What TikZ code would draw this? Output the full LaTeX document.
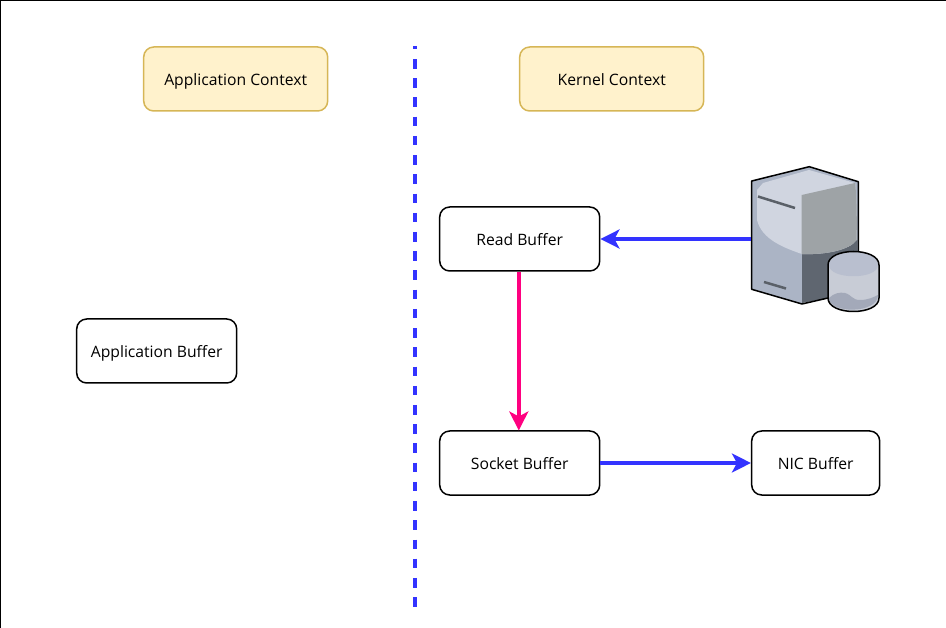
\documentclass[tikz,border=0pt]{standalone}
\usepackage{fontspec}
\setmainfont{Open Sans}
\usepackage{xcolor}
\usetikzlibrary{positioning, calc, arrows.meta}
\definecolor{ctxfill}{HTML}{FFF2CC}
\definecolor{ctxline}{HTML}{D6B656}
\definecolor{flowblue}{HTML}{3333FF}
\definecolor{flowpink}{HTML}{FF0080}
\definecolor{srvfront}{HTML}{ABB4C5}
\definecolor{srvdark}{HTML}{5F6670}
\definecolor{srvlight}{HTML}{D0D5E0}
\definecolor{srvgray}{HTML}{9EA3A6}
\definecolor{srvbar}{HTML}{5A6068}
\definecolor{srvdrum}{HTML}{C8CCD6}
\definecolor{srvdrumtop}{HTML}{B9BFCF}
\definecolor{srvdrumlow}{HTML}{A3A9B9}
\tikzset{
    buffer/.style={draw=black, line width=1.5pt, fill=white, rounded corners=10pt, minimum height=64pt, text=black, font=\fontsize{15.7}{18}\selectfont, inner sep=0pt, text height=14pt, text depth=1.4pt},
    context/.style={buffer, draw=ctxline, fill=ctxfill, minimum width=184pt},
    flow/.style={line width=3.4pt, -{Stealth[length=19pt,width=19pt,inset=5pt]}}
}
\begin{document}
\begin{tikzpicture}[x=1pt, y=-1pt]
    \useasboundingbox (0,0) rectangle (946,628);

    % --- Page Edge ---
    \draw[line width=1.5pt] (0.7,628) -- (0.7,0.7) -- (946,0.7);

    % --- Context Labels ---
    \node[context] (appctx) at (235.7,79) {Application Context};
    \node[context] (kernctx) at (611.7,79) {Kernel Context};

    % --- Divider ---
    \draw[flowblue, line width=3.5pt, dash pattern=on 9.6pt off 9.62pt, dash phase=6.2pt] (415,46) -- (415,607);

    % --- Buffers ---
    \node[buffer, minimum width=160pt] (appbuf) at (156.7,351) {Application Buffer};
    \node[buffer, minimum width=160pt] (readbuf) at (519.7,239) {Read Buffer};
    \node[buffer, minimum width=160pt] (sockbuf) at (519.7,463) {Socket Buffer};
    \node[buffer, minimum width=128pt] (nicbuf) at (815.7,463) {NIC Buffer};

    % --- Server Icon ---
    \coordinate (server) at (751,239);
    \fill[srvfront]
        (751.7,181) -- (809.3,166.7) -- (858.3,181.7) -- (858.3,255) -- (802,304) -- (751.7,289.3) -- cycle;
    \fill[srvdark] (802,254) -- (857.3,240) -- (857.3,256) -- (828,298) -- (802,303) -- cycle;
    \fill[srvlight] (757,190) -- (763,183) -- (809,170) -- (855,183) .. controls (857,195) and (857,230) .. (856.5,240)
        .. controls (850,250) and (825,255) .. (801.7,254) .. controls (785,248) and (762,240) .. (757,220) -- cycle;
    \fill[srvgray] (801.7,195) -- (855,183) .. controls (857,195) and (857,230) .. (856.5,240)
        .. controls (850,250) and (825,255) .. (801.7,254) -- cycle;
    \draw[srvbar, line width=2.5pt] (758,196.5) -- (795,208);
    \draw[srvbar, line width=2.5pt] (764,282) -- (786,288.5);
    \draw[black, line width=1.5pt, line join=round]
        (828,298) -- (802,304) -- (751.7,289.3) -- (751.7,181) -- (809.3,166.7) -- (858.3,181.7) -- (858.3,255);
    % drum
    \fill[srvdrum]
        (828,265) .. controls (828,247) and (879,247) .. (879,265) -- (879,298)
        .. controls (879,316) and (828,316) .. (828,298) -- cycle;
    \fill[srvdrumtop] (829,265) .. controls (829,248) and (878,248) .. (878,265)
        .. controls (878,280) and (829,280) .. (829,265) -- cycle;
    \fill[srvdrumlow] (829,298) .. controls (834,293) and (840,292) .. (845,293)
        .. controls (852,295) and (852,300) .. (860,300) .. controls (868,300) and (874,297) .. (878,295) .. controls (878,314) and (829,314) .. (829,298) -- cycle;
    \draw[black, line width=1.5pt]
        (828,265) .. controls (828,247) and (879,247) .. (879,265) -- (879,298)
        .. controls (879,316) and (828,316) .. (828,298) -- cycle;

    % --- Flows ---
    \draw[flow, flowblue] (server) -- (readbuf.east);
    \draw[flow, flowpink] (readbuf.south -| 518.8,0) -- (518.8,430.5);
    \draw[flow, flowblue] (sockbuf.east) -- (nicbuf.west);

\end{tikzpicture}
\end{document}
